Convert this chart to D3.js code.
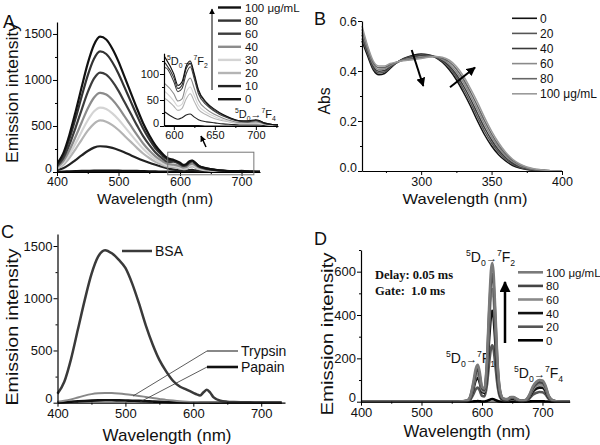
<!DOCTYPE html>
<html><head><meta charset="utf-8">
<script src="https://cdn.jsdelivr.net/npm/d3@7"></script>
<style>body{margin:0;background:#fff}</style>
</head><body><script>
// ---------- Panel A data ----------
const wavelengthA = [400,410,420,430,440,450,460,470,480,490,500,510,520,530,540,550,560,570,580,590,600,605,610,615,620,625,630,640,650,660,670,680,690,700,705,710,720,730];
const emA100 = [90,200,400,650,920,1180,1380,1470,1440,1340,1200,1030,860,690,530,400,290,210,150,130,100,78,85,115,125,100,70,45,32,22,15,10,10,12,10,6,3,2];
const emA80  = [80,178,356,578,819,1050,1228,1310,1282,1193,1068,917,765,614,472,356,258,187,134,120,93,72,79,110,120,96,67,43,30,21,14,10,9,11,9,6,3,2];
const emA60  = [66,147,294,478,676,867,1014,1080,1058,985,882,757,632,507,390,294,213,154,110,112,85,66,72,100,114,90,62,40,28,19,13,9,8,10,8,5,3,2];
const emA40  = [53,117,234,380,538,690,807,860,842,784,702,603,503,404,310,234,170,123,88,80,62,48,52,80,92,72,50,32,22,15,10,7,7,8,7,4,2,1];
const emA30  = [43,95,190,309,438,562,657,700,685,638,571,490,409,328,252,190,138,100,71,65,48,38,42,65,75,58,40,26,18,12,8,6,6,6,5,3,2,1];
const emA20  = [34,76,152,247,350,449,524,560,547,509,456,391,327,262,201,152,110,80,57,52,38,30,34,52,62,47,32,21,14,10,7,5,5,5,4,3,1,1];
const emA10  = [20,40,80,130,180,228,265,280,276,262,240,212,182,152,125,100,78,58,40,26,16,13,16,21,23,17,12,8,6,4,3,2,2,2,2,1,1,0];
const emA0   = [0,2,5,8,10,11,12,12,12,12,12,11,10,9,8,6,4,3,2,1,1,1,1,1,1,1,1,0,0,0,0,0,0,0,0,0,0,0];
const labelsA = ["100 μg/mL","80","60","40","30","20","10","0"];
const colorsA = ["#111","#333","#3c3c3c","#8c8c8c","#d4d4d4","#b4b4b4","#222","#111"];
const seriesA = [emA100,emA80,emA60,emA40,emA30,emA20,emA10,emA0];

// ---------- Panel B data ----------
const wavelengthB = [258,262,266,270,274,278,282,286,290,295,300,305,310,315,320,325,330,335,340,345,350,355,360,365,370,375,380,385,390,400];
const absB0   = [0.52,0.46,0.405,0.385,0.39,0.41,0.43,0.445,0.455,0.464,0.468,0.465,0.455,0.435,0.405,0.365,0.315,0.26,0.2,0.145,0.1,0.065,0.04,0.022,0.012,0.006,0.003,0.002,0.001,0];
const absB20  = [0.53,0.47,0.412,0.392,0.396,0.414,0.431,0.444,0.453,0.46,0.464,0.463,0.456,0.439,0.413,0.376,0.328,0.274,0.215,0.159,0.112,0.075,0.047,0.027,0.015,0.008,0.004,0.003,0.001,0];
const absB40  = [0.545,0.48,0.419,0.399,0.402,0.418,0.432,0.443,0.45,0.457,0.461,0.461,0.457,0.443,0.42,0.386,0.341,0.288,0.23,0.173,0.124,0.084,0.054,0.032,0.018,0.01,0.005,0.003,0.001,0];
const absB60  = [0.555,0.487,0.426,0.406,0.408,0.422,0.433,0.442,0.448,0.453,0.457,0.459,0.457,0.447,0.428,0.397,0.354,0.302,0.245,0.187,0.136,0.094,0.061,0.037,0.021,0.012,0.006,0.004,0.002,0];
const absB80  = [0.567,0.494,0.433,0.413,0.414,0.426,0.434,0.441,0.445,0.45,0.453,0.457,0.458,0.451,0.436,0.408,0.367,0.316,0.26,0.201,0.148,0.103,0.068,0.042,0.025,0.014,0.007,0.004,0.002,0];
const absB100 = [0.58,0.5,0.44,0.42,0.42,0.43,0.435,0.44,0.443,0.446,0.45,0.455,0.458,0.455,0.443,0.418,0.38,0.33,0.275,0.215,0.16,0.113,0.075,0.047,0.028,0.016,0.009,0.005,0.002,0];
const labelsB = ["0","20","40","60","80","100 μg/mL"];
const colorsB = ["#111","#555","#3a3a3a","#8a8a8a","#666","#9a9a9a"];
const seriesB = [absB0,absB20,absB40,absB60,absB80,absB100];

// ---------- Panel C data ----------
const emBSA     = [85,200,420,700,980,1230,1400,1460,1430,1370,1290,1140,950,740,560,410,300,210,155,125,95,80,70,100,125,95,50,18,10,7,5,4,3,3,3,2,2,1];
const emTrypsin = [8,18,32,50,68,82,90,93,92,88,82,74,65,55,45,36,27,20,14,10,7,6,5,5,5,4,4,3,2,2,1,1,1,1,1,0,0,0];
const emPapain  = [2,5,9,13,17,20,22,23,23,22,21,19,17,14,11,9,7,5,4,3,2,2,2,2,2,1,1,1,1,0,0,0,0,0,0,0,0,0];
const labelsC = ["BSA","Trypsin","Papain"];

// ---------- Panel D data ----------
const wavelengthD = [400,560,575,580,585,590,593,596,600,604,608,612,615,617,619,622,626,630,635,642,648,652,657,665,672,678,684,690,695,700,705,710,716,725,745];
const emD100 = [0,0,5,20,80,155,170,140,70,60,180,450,610,640,600,420,170,50,15,12,22,22,14,4,8,30,70,92,100,98,75,30,8,1,0];
const emD80  = [0,0,4,18,70,136,150,123,62,53,166,414,561,590,552,386,156,46,14,11,20,20,13,4,7,27,63,83,90,88,68,27,7,1,0];
const emD60  = [0,0,4,15,60,118,130,107,53,46,146,365,494,520,486,340,138,41,12,10,18,18,11,3,6,24,56,74,80,78,60,24,6,1,0];
const emD40  = [0,0,3,13,52,100,110,91,46,40,118,296,399,420,394,276,112,33,10,8,14,14,9,3,5,20,46,60,65,64,49,20,5,1,0];
const emD20  = [0,0,2,8,30,59,65,53,27,24,73,183,247,260,244,171,69,20,6,5,9,9,6,2,4,14,32,41,45,44,34,14,4,0,0];
const emD0   = [0,0,0,0,1,2,3,2,1,1,3,8,11,12,11,8,3,1,0,0,0,0,0,0,0,1,2,2,2,2,1,1,0,0,0];
const labelsD = ["100 μg/mL","80","60","40","20","0"];
const colorsD = ["#7a7a7a","#444","#8a8a8a","#111","#555","#000"];
const seriesD = [emD100,emD80,emD60,emD40,emD20,emD0];

// ---------- drawing ----------
const SANS = "'Liberation Sans', Arial, sans-serif";
const SERIF = "'Liberation Serif', 'Times New Roman', serif";
const svg = d3.select("body").append("svg").attr("width",600).attr("height",445).style("font-family",SANS);
const defs = svg.append("defs");
function marker(id, size){
  defs.append("marker").attr("id",id).attr("viewBox","0 0 10 10").attr("refX",9).attr("refY",5)
    .attr("markerWidth",size).attr("markerHeight",size).attr("orient","auto").attr("markerUnits","userSpaceOnUse")
    .append("path").attr("d","M0,0L10,5L0,10z").attr("fill","#000");
}
marker("ah",9); marker("ahs",6); marker("ahb",11);
let clipN = 0;
function clip(x0,y0,x1,y1){
  const id = "c"+(clipN++);
  defs.append("clipPath").attr("id",id).append("rect").attr("x",x0).attr("y",y0).attr("width",x1-x0).attr("height",y1-y0);
  return "url(#"+id+")";
}
function axes(x, y, xt, xm, yt, ym, fmt, fs, pad){
  const gx = svg.append("g").attr("transform",`translate(0,${y.range()[0]})`)
    .call(d3.axisBottom(x).tickValues(xt).tickSize(4).tickSizeOuter(0).tickPadding(pad));
  svg.append("g").attr("transform",`translate(0,${y.range()[0]})`)
    .call(d3.axisBottom(x).tickValues(xm).tickSize(2).tickFormat("").tickSizeOuter(0)).select(".domain").remove();
  const gy = svg.append("g").attr("transform",`translate(${x.range()[0]},0)`)
    .call(d3.axisLeft(y).tickValues(yt).tickSize(4).tickSizeOuter(0).tickPadding(1).tickFormat(fmt));
  svg.append("g").attr("transform",`translate(${x.range()[0]},0)`)
    .call(d3.axisLeft(y).tickValues(ym).tickSize(2).tickFormat("").tickSizeOuter(0)).select(".domain").remove();
  [gx,gy].forEach(g=>{ g.attr("font-family",SANS).attr("font-size",fs);
    g.selectAll("text").attr("fill","#111");
    g.select(".domain").attr("stroke-width",1.2); });
  gy.selectAll(".tick text").filter(d=>d===0).attr("dy","0.02em");
}
function trans(x, y, lower, size, arrowScale){
  const t = svg.append("text").attr("x",x).attr("y",y).attr("font-size",size).attr("fill","#111");
  const s = size*0.62;
  t.append("tspan").attr("font-size",s).attr("dy",-size*0.42).text("5");
  t.append("tspan").attr("dy",size*0.42).text("D");
  t.append("tspan").attr("font-size",s).attr("dy",size*0.3).text("0");
  t.append("tspan").attr("dy",-size*0.3).attr("font-size",size*arrowScale).text("→");
  t.append("tspan").attr("font-size",s).attr("dy",-size*0.42).text("7");
  t.append("tspan").attr("dy",size*0.42).text("F");
  t.append("tspan").attr("font-size",s).attr("dy",size*0.3).text(lower);
}
function title(txt, x, y, size, len, rot){
  const t = svg.append("text").attr("font-size",size).attr("text-anchor","middle").attr("fill","#111").text(txt)
    .attr("textLength",len).attr("lengthAdjust","spacingAndGlyphs");
  if(rot) t.attr("transform",`translate(${x},${y}) rotate(-90)`); else t.attr("x",x).attr("y",y);
}
function letter(txt,x,y){ svg.append("text").attr("x",x).attr("y",y).attr("font-size",18).attr("fill","#111").text(txt); }

// ===== Panel A =====
{
  const x = d3.scaleLinear().domain([400,730]).range([57,260]);
  const y = d3.scaleLinear().domain([0,1630]).range([172,22]);
  const line = d3.line().x((d,i)=>x(wavelengthA[i])).y(d=>y(d)).curve(d3.curveMonotoneX);
  const cp = clip(57,0,260,172);
  seriesA.map((s,i)=>i).reverse().forEach(i=>{
    svg.append("path").attr("d",line(seriesA[i])).attr("fill","none").attr("stroke",colorsA[i])
      .attr("stroke-width", i===7?2.6:2.2).attr("clip-path",cp);
  });
  axes(x,y,[400,500,600,700],[450,550,650],[0,500,1000,1500],[250,750,1250],d3.format("d"),12.5,1.5);
  svg.append("rect").attr("x",x(580)).attr("y",y(215)).attr("width",x(720)-x(580)).attr("height",y(-30)-y(215))
    .attr("fill","none").attr("stroke","#777").attr("stroke-width",1);
  svg.append("line").attr("x1",206).attr("y1",147).attr("x2",201).attr("y2",136).attr("stroke","#000").attr("stroke-width",1.5).attr("marker-end","url(#ahs)");
  // inset
  const xi = d3.scaleLinear().domain([588,727]).range([164,278]);
  const yi = d3.scaleLinear().domain([0,140]).range([126,53.2]);
  const lineI = d3.line().defined((d,i)=>wavelengthA[i]>=580).x((d,i)=>xi(wavelengthA[i])).y(d=>yi(d)).curve(d3.curveMonotoneX);
  const cpi = clip(164,40,278,126);
  seriesA.map((s,i)=>i).reverse().forEach(i=>{
    svg.append("path").attr("d",lineI(seriesA[i])).attr("fill","none").attr("stroke",colorsA[i])
      .attr("stroke-width",1.1).attr("clip-path",cpi);
  });
  axes(xi,yi,[600,650,700],[625,675,725],[0,50,100],[25,75,125],d3.format("d"),11,1.5);
  trans(167,65,"2",11,1);
  trans(235,118,"4",11,1);
  labelsA.forEach((l,i)=>{
    const yy = 7.5 + 13.1*i;
    svg.append("line").attr("x1",218).attr("x2",241).attr("y1",yy).attr("y2",yy).attr("stroke",colorsA[i]).attr("stroke-width",2.4);
    svg.append("text").attr("x",245).attr("y",yy+4).attr("font-size",11.5).attr("fill","#111").text(l);
  });
  svg.append("line").attr("x1",212).attr("x2",212).attr("y1",90).attr("y2",9).attr("stroke","#000").attr("stroke-width",1).attr("marker-end","url(#ahs)");
  letter("A",3,28);
  title("Emission intensity",18,93,16,140,true);
  title("Wavelength (nm)",155,204,15,116,false);
}

// ===== Panel B =====
{
  const x = d3.scaleLinear().domain([258,400]).range([362,562]);
  const y = d3.scaleLinear().domain([0,0.6]).range([171,21]);
  const line = d3.line().x((d,i)=>x(wavelengthB[i])).y(d=>y(d)).curve(d3.curveMonotoneX);
  seriesB.forEach((s,i)=>{
    svg.append("path").attr("d",line(s)).attr("fill","none").attr("stroke",colorsB[i]).attr("stroke-width",1.5);
  });
  axes(x,y,[300,350,400],[275,325,375],[0,0.2,0.4,0.6],[0.1,0.3,0.5],d3.format(".1f"),12.5,2);
  labelsB.forEach((l,i)=>{
    const yy = 18.3 + 15.1*i;
    svg.append("line").attr("x1",512).attr("x2",537).attr("y1",yy).attr("y2",yy).attr("stroke",colorsB[i]).attr("stroke-width",1.6);
    svg.append("text").attr("x",540).attr("y",yy+4.5).attr("font-size",12).attr("fill","#111").text(l);
  });
  svg.append("line").attr("x1",411.7).attr("y1",50).attr("x2",423.3).attr("y2",86).attr("stroke","#000").attr("stroke-width",2).attr("marker-end","url(#ah)");
  svg.append("line").attr("x1",450).attr("y1",87.3).attr("x2",475).attr("y2",67.5).attr("stroke","#000").attr("stroke-width",2).attr("marker-end","url(#ah)");
  letter("B",314,25);
  title("Abs",330,101,16,27,true);
  title("Wavelength  (nm)",465,204,15,125,false);
}

// ===== Panel C =====
{
  const x = d3.scaleLinear().domain([400,735]).range([57.5,285]);
  const y = d3.scaleLinear().domain([0,1615]).range([402.7,234]);
  const line = d3.line().x((d,i)=>x(wavelengthA[i])).y(d=>y(d)).curve(d3.curveMonotoneX);
  svg.append("path").attr("d",line(emPapain)).attr("fill","none").attr("stroke","#111").attr("stroke-width",2.6);
  svg.append("path").attr("d",line(emTrypsin)).attr("fill","none").attr("stroke","#888").attr("stroke-width",2);
  svg.append("path").attr("d",line(emBSA)).attr("fill","none").attr("stroke","#3a3a3a").attr("stroke-width",2.5);
  axes(x,y,[400,500,600,700],[450,550,650],[0,500,1000,1500],[250,750,1250],d3.format("d"),13,2.5);
  const legC = [[122,152,251,"#3a3a3a",2.5],[207,238,351,"#888",2],[207,238,367,"#111",2.6]];
  labelsC.forEach((l,i)=>{
    const r = legC[i];
    svg.append("line").attr("x1",r[0]).attr("x2",r[1]).attr("y1",r[2]).attr("y2",r[2]).attr("stroke",r[3]).attr("stroke-width",r[4]);
    svg.append("text").attr("x",r[1]+3).attr("y",r[2]+5).attr("font-size",14).attr("fill","#111").text(l);
  });
  svg.append("line").attr("x1",207).attr("y1",351).attr("x2",133).attr("y2",396).attr("stroke","#333").attr("stroke-width",0.8);
  svg.append("line").attr("x1",207).attr("y1",367).attr("x2",140).attr("y2",402).attr("stroke","#333").attr("stroke-width",0.8);
  letter("C",1,238);
  title("Emission intensity",18,327,17,157,true);
  title("Wavelength (nm)",167,441,17,129,false);
}

// ===== Panel D =====
{
  const x = d3.scaleLinear().domain([400,745]).range([361,569.7]);
  const y = d3.scaleLinear().domain([0,700]).range([401.7,250]);
  const line = d3.line().x((d,i)=>x(wavelengthD[i])).y(d=>y(d)).curve(d3.curveMonotoneX);
  trans(446,363,"1",14,0.8);
  seriesD.map((s,i)=>i).reverse().forEach(i=>{
    svg.append("path").attr("d",line(seriesD[i])).attr("fill","none").attr("stroke",colorsD[i]).attr("stroke-width",2.6);
  });
  axes(x,y,[400,500,600,700],[450,550,650],[0,200,400,600],[100,300,500,700],d3.format("d"),13,2.5);
  trans(466,262,"2",14,0.8);
  trans(514,378,"4",14,0.8);
  svg.append("text").attr("x",375).attr("y",279).attr("font-size",12.5).attr("font-weight","bold").style("font-family",SERIF).attr("fill","#111").text("Delay: 0.05 ms");
  svg.append("text").attr("x",375).attr("y",295).attr("font-size",12.5).attr("font-weight","bold").style("font-family",SERIF).attr("fill","#111").style("white-space","pre").text("Gate:  1.0 ms");
  labelsD.forEach((l,i)=>{
    const yy = 272.3 + 13.6*i;
    svg.append("line").attr("x1",518).attr("x2",543).attr("y1",yy).attr("y2",yy).attr("stroke",colorsD[i]).attr("stroke-width",2.6);
    svg.append("text").attr("x",546).attr("y",yy+4.5).attr("font-size",11.5).attr("fill","#111").text(l);
  });
  svg.append("line").attr("x1",505).attr("x2",505).attr("y1",343).attr("y2",282).attr("stroke","#000").attr("stroke-width",2.5).attr("marker-end","url(#ahb)");
  letter("D",314,245);
  title("Emission intensity",333,334,17,163,true);
  title("Wavelength (nm)",467,437,17,127,false);
}
</script></body></html>
